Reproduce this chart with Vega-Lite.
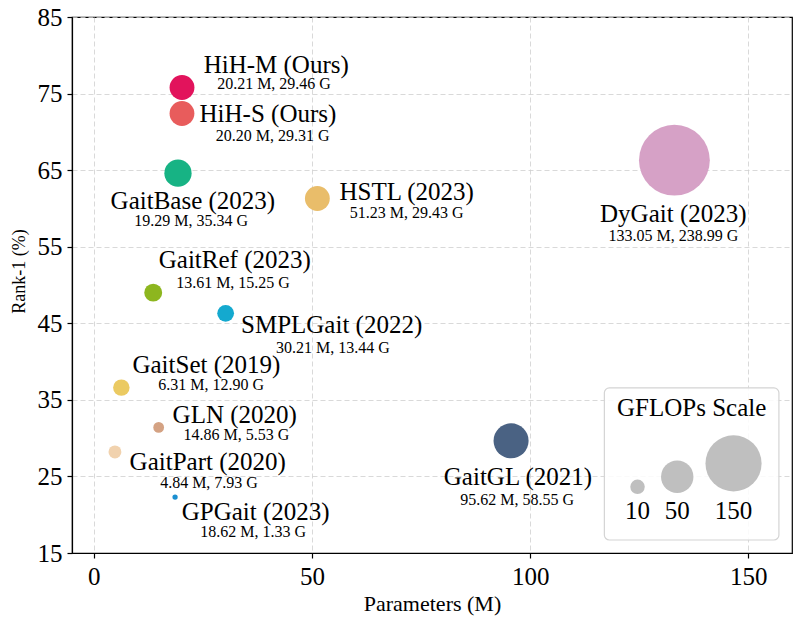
{
  "$schema": "https://vega.github.io/schema/vega-lite/v6.json",
  "width": 720,
  "height": 536,
  "autosize": "none",
  "padding": {"left": 72, "top": 17, "right": 13, "bottom": 65},
  "background": "white",
  "config": {
    "font": "Liberation Serif",
    "view": {"stroke": "#000000", "strokeWidth": 1.2},
    "axis": {
      "labelFont": "Liberation Serif",
      "titleFont": "Liberation Serif",
      "labelColor": "#000000",
      "titleColor": "#000000",
      "labelFontSize": 25,
      "titleFontWeight": "normal",
      "domainColor": "#000000",
      "domainWidth": 1.2,
      "tickColor": "#000000",
      "tickSize": 5,
      "tickWidth": 1.2,
      "gridColor": "#cfcfcf",
      "gridDash": [5, 3],
      "gridWidth": 0.8
    },
    "axisX": {"titleFontSize": 22, "labelPadding": 6, "titlePadding": 4},
    "axisY": {"titleFontSize": 18, "labelPadding": 5, "titlePadding": 9, "titleY": 254}
  },
  "datasets": {
    "models": [
      {"name": "HiH-M (Ours)", "params": 20.21, "rank1": 75.8, "gflops": 29.46, "lx": 41.8, "ly": 78.7, "sx": 41.3, "sy": 76.3, "sub": "20.21 M, 29.46 G"},
      {"name": "HiH-S (Ours)", "params": 20.20, "rank1": 72.4, "gflops": 29.31, "lx": 39.9, "ly": 72.3, "sx": 41.0, "sy": 69.4, "sub": "20.20 M, 29.31 G"},
      {"name": "GaitBase (2023)", "params": 19.29, "rank1": 64.6, "gflops": 35.34, "lx": 22.7, "ly": 61.0, "sx": 22.3, "sy": 58.3, "sub": "19.29 M, 35.34 G"},
      {"name": "HSTL (2023)", "params": 51.23, "rank1": 61.3, "gflops": 29.43, "lx": 71.7, "ly": 62.2, "sx": 71.7, "sy": 59.4, "sub": "51.23 M, 29.43 G"},
      {"name": "DyGait (2023)", "params": 133.05, "rank1": 66.3, "gflops": 238.99, "lx": 132.8, "ly": 59.3, "sx": 132.8, "sy": 56.4, "sub": "133.05 M, 238.99 G"},
      {"name": "GaitRef (2023)", "params": 13.61, "rank1": 49.0, "gflops": 15.25, "lx": 32.3, "ly": 53.2, "sx": 31.9, "sy": 50.2, "sub": "13.61 M, 15.25 G"},
      {"name": "SMPLGait (2022)", "params": 30.21, "rank1": 46.3, "gflops": 13.44, "lx": 54.5, "ly": 44.75, "sx": 54.8, "sy": 41.8, "sub": "30.21 M, 13.44 G"},
      {"name": "GaitSet (2019)", "params": 6.31, "rank1": 36.6, "gflops": 12.90, "lx": 25.8, "ly": 39.6, "sx": 26.9, "sy": 36.92, "sub": "6.31 M, 12.90 G"},
      {"name": "GLN (2020)", "params": 14.86, "rank1": 31.4, "gflops": 5.53, "lx": 32.3, "ly": 33.0, "sx": 32.7, "sy": 30.45, "sub": "14.86 M, 5.53 G"},
      {"name": "GaitPart (2020)", "params": 4.84, "rank1": 28.2, "gflops": 7.93, "lx": 26.1, "ly": 26.9, "sx": 26.4, "sy": 24.2, "sub": "4.84 M, 7.93 G"},
      {"name": "GPGait (2023)", "params": 18.62, "rank1": 22.3, "gflops": 1.33, "lx": 37.1, "ly": 20.38, "sx": 36.5, "sy": 17.8, "sub": "18.62 M, 1.33 G"},
      {"name": "GaitGL (2021)", "params": 95.62, "rank1": 29.65, "gflops": 58.55, "lx": 97.2, "ly": 24.95, "sx": 97.0, "sy": 21.95, "sub": "95.62 M, 58.55 G"}
    ],
    "legendItems": [
      {"gflops": 10, "cx": 124.6, "cy": 23.65, "tx": 124.6, "ty": 20.5, "label": "10"},
      {"gflops": 50, "cx": 133.7, "cy": 24.95, "tx": 133.7, "ty": 20.5, "label": "50"},
      {"gflops": 150, "cx": 146.6, "cy": 26.7, "tx": 146.6, "ty": 20.5, "label": "150"}
    ],
    "legendBox": [
      {"x1": 117.0, "x2": 157.0, "y1": 16.7, "y2": 36.57, "title": "GFLOPs Scale", "tx": 137.0, "ty": 33.9}
    ]
  },
  "layer": [
    {
      "data": {"name": "legendBox"},
      "mark": {"type": "rect", "fill": "#ffffff", "fillOpacity": 0.85, "stroke": "#d4d4d4", "strokeWidth": 1.2, "cornerRadius": 5},
      "encoding": {
        "x": {"field": "x1", "type": "quantitative", "scale": {"domain": [-5, 160], "nice": false, "zero": false},
              "axis": {"values": [0, 50, 100, 150], "title": "Parameters (M)"}},
        "x2": {"field": "x2"},
        "y": {"field": "y1", "type": "quantitative", "scale": {"domain": [15, 85], "nice": false, "zero": false},
              "axis": {"values": [15, 25, 35, 45, 55, 65, 75, 85], "title": "Rank-1 (%)"}},
        "y2": {"field": "y2"}
      }
    },
    {
      "data": {"name": "models"},
      "mark": {"type": "circle", "opacity": 1},
      "encoding": {
        "x": {"field": "params", "type": "quantitative"},
        "y": {"field": "rank1", "type": "quantitative"},
        "size": {"field": "gflops", "type": "quantitative", "scale": {"domain": [0, 240], "range": [0, 5040], "zero": true}, "legend": null},
        "color": {"field": "name", "type": "nominal", "legend": null,
          "scale": {
            "domain": ["HiH-M (Ours)", "HiH-S (Ours)", "GaitBase (2023)", "HSTL (2023)", "DyGait (2023)", "GaitRef (2023)", "SMPLGait (2022)", "GaitSet (2019)", "GLN (2020)", "GaitPart (2020)", "GPGait (2023)", "GaitGL (2021)"],
            "range": ["#e2135c", "#e85c5c", "#17b384", "#e9bd6a", "#d6a1c6", "#8db61f", "#14a9cf", "#ebca62", "#d4a283", "#f1d2ae", "#1b8fd0", "#4a6283"]
          }
        }
      }
    },
    {
      "data": {"name": "models"},
      "mark": {"type": "text", "fontSize": 25, "align": "center", "baseline": "middle", "color": "#000000"},
      "encoding": {
        "x": {"field": "lx", "type": "quantitative"},
        "y": {"field": "ly", "type": "quantitative"},
        "text": {"field": "name"}
      }
    },
    {
      "data": {"name": "models"},
      "mark": {"type": "text", "fontSize": 16, "align": "center", "baseline": "middle", "color": "#000000"},
      "encoding": {
        "x": {"field": "sx", "type": "quantitative"},
        "y": {"field": "sy", "type": "quantitative"},
        "text": {"field": "sub"}
      }
    },
    {
      "data": {"name": "legendItems"},
      "mark": {"type": "circle", "color": "#bfbfbf", "opacity": 1},
      "encoding": {
        "x": {"field": "cx", "type": "quantitative"},
        "y": {"field": "cy", "type": "quantitative"},
        "size": {"field": "gflops", "type": "quantitative"}
      }
    },
    {
      "data": {"name": "legendItems"},
      "mark": {"type": "text", "fontSize": 25, "align": "center", "baseline": "middle", "color": "#000000"},
      "encoding": {
        "x": {"field": "tx", "type": "quantitative"},
        "y": {"field": "ty", "type": "quantitative"},
        "text": {"field": "label"}
      }
    },
    {
      "data": {"name": "legendBox"},
      "mark": {"type": "text", "fontSize": 25, "align": "center", "baseline": "middle", "color": "#000000"},
      "encoding": {
        "x": {"field": "tx", "type": "quantitative"},
        "y": {"field": "ty", "type": "quantitative"},
        "text": {"field": "title"}
      }
    }
  ]
}
